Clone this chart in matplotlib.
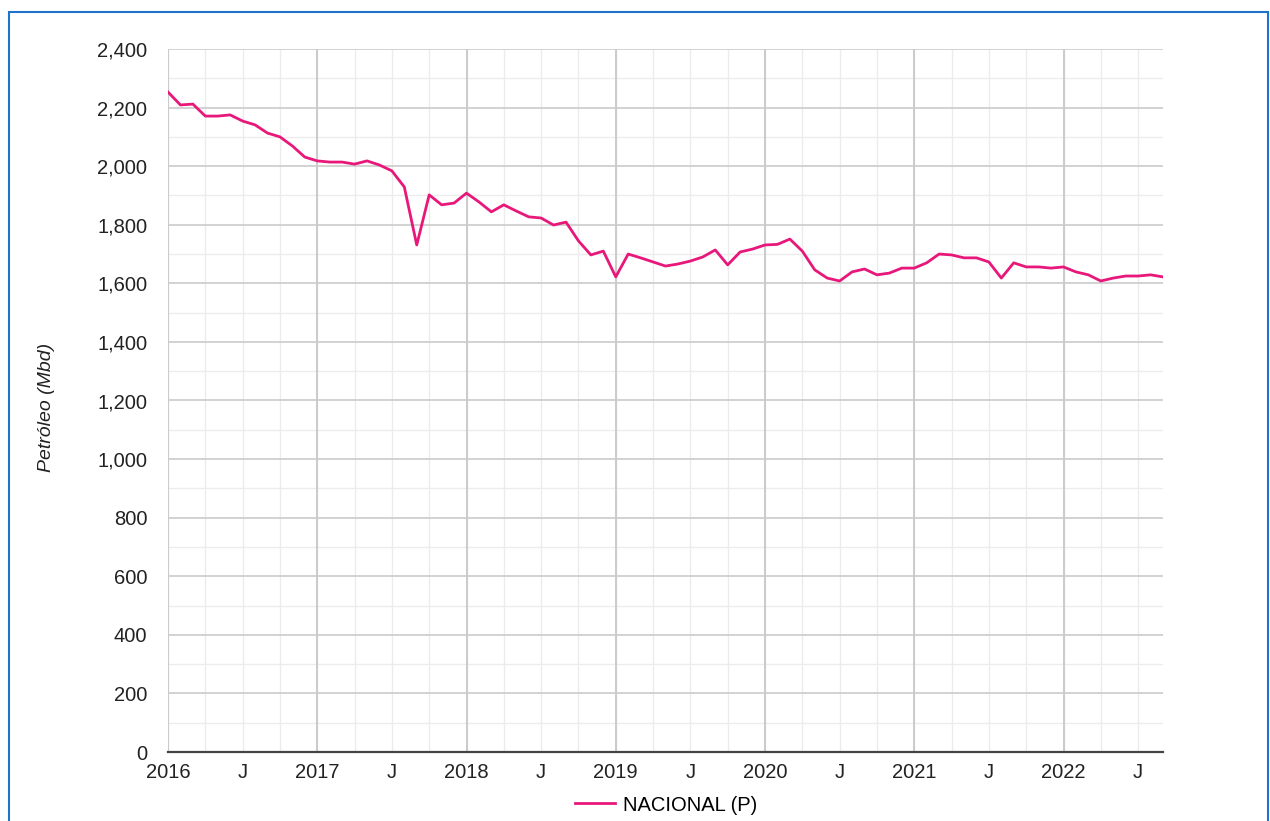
import numpy as np
import matplotlib.pyplot as plt
from matplotlib.patches import Rectangle
from matplotlib.ticker import MultipleLocator, FixedLocator

plt.rcParams['font.family'] = ['Liberation Sans', 'DejaVu Sans']

# monthly production, Jan 2016 .. Sep 2022 (Mbd)
start_year = 2016
produccion = [
    2253, 2209, 2212, 2171, 2171, 2175, 2154, 2141, 2113, 2100, 2069, 2031,
    2018, 2014, 2014, 2007, 2018, 2004, 1984, 1929, 1731, 1902, 1868, 1874,
    1908, 1878, 1844, 1868, 1847, 1827, 1823, 1799, 1809, 1745, 1697, 1710,
    1622, 1700, 1687, 1673, 1659, 1666, 1676, 1690, 1714, 1663, 1707, 1717,
    1731, 1733, 1751, 1710, 1646, 1618, 1608, 1639, 1649, 1629, 1635, 1652,
    1652, 1670, 1700, 1697, 1687, 1687, 1673, 1618, 1670, 1656, 1656, 1652,
    1656, 1639, 1629, 1608, 1618, 1625, 1625, 1629, 1622,
]
serie = 'NACIONAL (P)'
ylabel = 'Petróleo (Mbd)'

meses = np.arange(len(produccion))
fs = 14.5

fig = plt.figure(figsize=(12.7, 8.21), dpi=100)
ax = fig.add_axes([168/1270, 1-752/821, (1163-168)/1270, (752-49)/821])

ax.plot(meses, produccion, color='#e8177a', lw=2.0, label=serie, zorder=3)

ax.set_xlim(0, len(produccion) - 1)
ax.set_ylim(0, 2400)

# y grid: major each 200, minor each 100
ax.yaxis.set_major_locator(MultipleLocator(200))
ax.yaxis.set_minor_locator(MultipleLocator(100))
ax.grid(which='major', axis='y', color='#cbcbcb', lw=1.2)
ax.grid(which='minor', axis='y', color='#ececec', lw=1.0)
ax.set_yticklabels([f'{int(v):,}' for v in ax.get_yticks()])

# x ticks every quarter, labels on Jan (year) and Jul (J)
xt = list(range(0, len(produccion), 3))
ax.xaxis.set_major_locator(FixedLocator(xt))
labs = []
for m in xt:
    if m % 12 == 0:
        labs.append(str(start_year + m // 12))
    elif m % 12 == 6:
        labs.append('J')
    else:
        labs.append('')
ax.set_xticklabels(labs)
ax.grid(which='major', axis='x', color='#ececec', lw=1.0)
for m in range(0, len(produccion), 12):
    ax.axvline(m, color='#cbcbcb', lw=1.4, zorder=1)

ax.set_axisbelow(True)
ax.tick_params(axis='both', which='both', length=0, labelsize=fs, colors='#222222')
ax.tick_params(axis='y', pad=15)
ax.tick_params(axis='x', pad=8)

for s in ['top', 'right', 'left']:
    ax.spines[s].set_visible(False)
ax.spines['bottom'].set_color('#444444')
ax.spines['bottom'].set_linewidth(1.6)

ax.set_ylabel(ylabel, fontsize=14, style='italic', color='#222222')
ax.yaxis.set_label_coords(-113/995, 0.49)

fig.legend(loc='center', bbox_to_anchor=(666/1270, 1-805/821), frameon=False,
           fontsize=fs, handlelength=2.0, handletextpad=0.35)

# blue frame around the chart
fig.patches.append(Rectangle((9/1270, -0.05), 1259/1270, 1.05 - 12/821,
                             transform=fig.transFigure, fill=False,
                             edgecolor='#1f74c9', lw=1.5))

fig.savefig('out.png', dpi=100)
